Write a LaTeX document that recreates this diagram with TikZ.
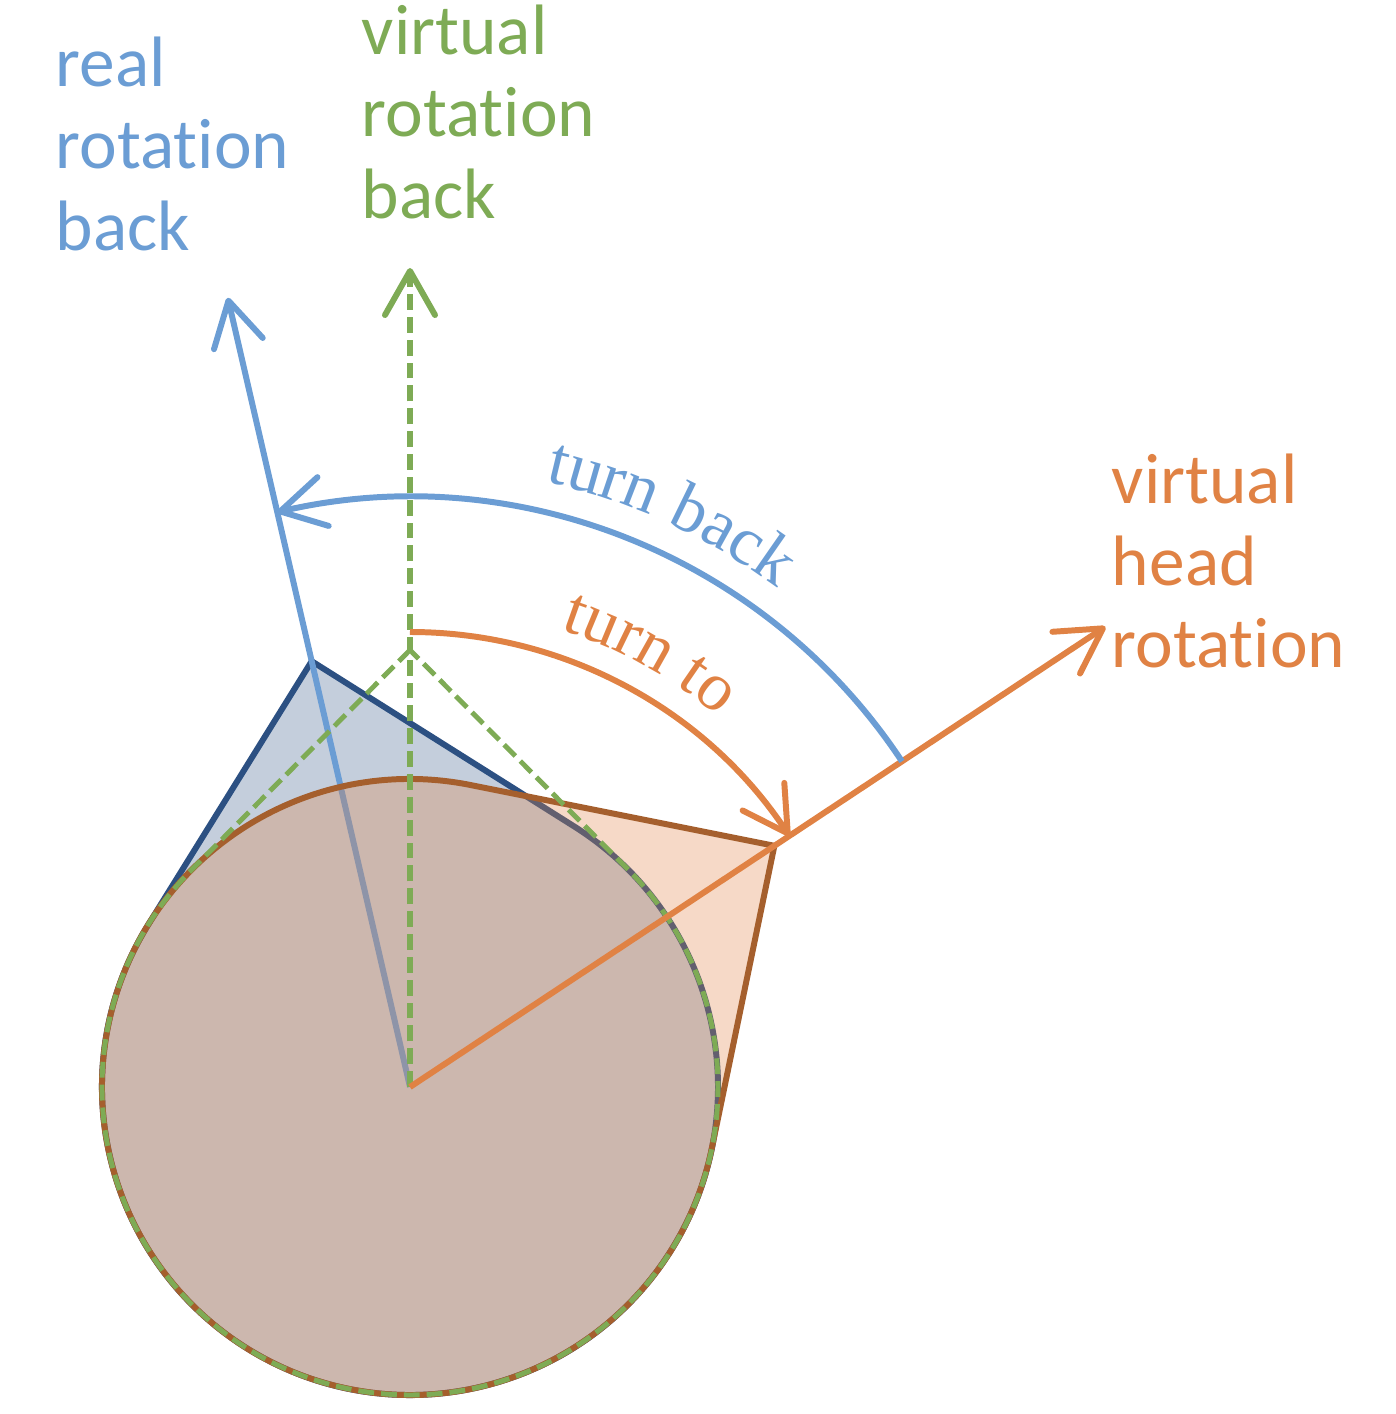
\documentclass[tikz,border=0pt]{standalone}
\usepackage{fontspec}
\setmainfont{Carlito}[Ligatures=NoCommon]
\newfontfamily\arcfont{Liberation Serif}
\usetikzlibrary{arrows.meta,decorations.text}

\definecolor{realblue}{RGB}{107,157,212}
\definecolor{realdark}{RGB}{44,80,130}
\definecolor{virtgreen}{RGB}{126,171,85}
\definecolor{headorange}{RGB}{224,130,68}
\definecolor{headbrown}{RGB}{165,95,45}

\tikzset{
	arrowline/.style={-{Straight Barb[length=4.4mm,width=5mm,round]}},
	dashline/.style={dash pattern=on 4.5pt off 2pt},
	lbl/.style={anchor=base west,inner sep=0pt,align=left,font=\fontsize{20.3}{23.3}\selectfont},
}

\begin{document}
\begin{tikzpicture}[x=0.01cm,y=0.01cm,line width=1.7pt]
		\def\R{308}
		\def\D{437}
		\def\T{45.2}
		\useasboundingbox (-410,-327) rectangle (986,1087);
		\coordinate (c) at (0,0);
		\coordinate (realtip) at (103:810);
		\coordinate (virttip) at (90:819);
		\coordinate (headtip) at (33.5:834);
		% real head: pointer and line
		\filldraw[draw=realdark,fill=realdark,fill opacity=.28] (103:\D) -- (103+\T:\R) arc[start angle=103+\T,delta angle=360-2*\T,radius=\R] -- cycle;
		\draw[realblue,arrowline] (c) -- (realtip);
		% virtual head
		\filldraw[draw=headbrown,fill=headorange,fill opacity=.3] (33.5:\D) -- (33.5+\T:\R) arc[start angle=33.5+\T,delta angle=360-2*\T,radius=\R] -- cycle;
		\draw[virtgreen,dashline,line width=1.4pt] (90:\D) -- (90+\T:\R) arc[start angle=90+\T,delta angle=360-2*\T,radius=\R] -- cycle;
		\draw[virtgreen,dashline,arrowline] (c) -- (virttip);
		\draw[headorange,arrowline] (c) -- (headtip);
		% turns
		\draw[realblue,arrowline] (33.5:590) arc[start angle=33.5,end angle=103,radius=590];
		\draw[headorange,arrowline] (90:455) arc[start angle=90,end angle=33.5,radius=455];
		\path[decorate,decoration={text along path,text align=center,text={|\arcfont\fontsize{19.5}{19.5}\selectfont\color{realblue}|turn back}}] (85:620) arc[start angle=85,end angle=46,radius=620];
		\path[decorate,decoration={text along path,text align=center,text={|\arcfont\fontsize{19.5}{19.5}\selectfont\color{headorange}|turn to}}] (80:482) arc[start angle=80,end angle=42,radius=482];
		% labels
		\node[lbl,text=realblue] (reallbl) at (-357,837) {real\\rotation\\back};
		\node[lbl,text=virtgreen] (virtlbl) at (-51,869) {virtual\\rotation\\back};
		\node[lbl,text=headorange] (headlbl) at (699,420) {virtual\\head\\rotation};
	\end{tikzpicture}
\end{document}
